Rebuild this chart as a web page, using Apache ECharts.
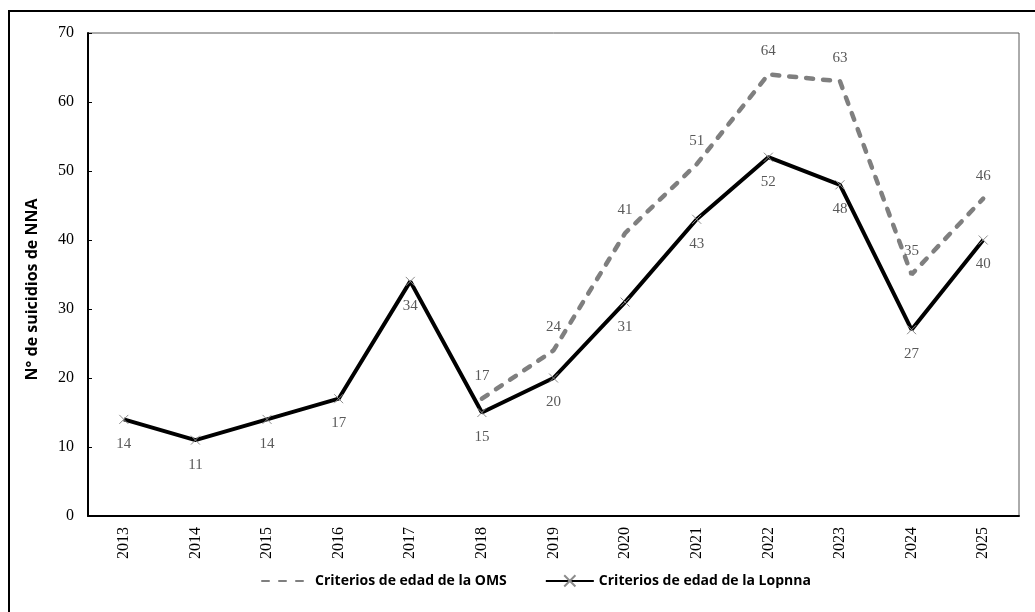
<!DOCTYPE html>
<html>
<head>
<meta charset="utf-8">
<script src="https://cdn.jsdelivr.net/npm/echarts@6/dist/echarts.min.js"></script>
<style>
html,body{margin:0;padding:0;background:#fff;}
#c{width:1035px;height:612px;}
</style>
</head>
<body>
<div id="c"></div>
<script>
var years = ['2013','2014','2015','2016','2017','2018','2019','2020','2021','2022','2023','2024','2025'];
var omsValues = [null, null, null, null, null, 17, 24, 41, 51, 64, 63, 35, 46];
var lopnnaValues = [14, 11, 14, 17, 34, 15, 20, 31, 43, 52, 48, 27, 40];
var yTicks = [0, 10, 20, 30, 40, 50, 60, 70];
var seriesNames = ['Criterios de edad de la OMS', 'Criterios de edad de la Lopnna'];
var yAxisTitle = 'N° de suicidios de NNA';

var chart = echarts.init(document.getElementById('c'), null, {renderer: 'canvas'});
var serif = '"Liberation Serif", "Times New Roman", serif';
var sans = '"Open Sans", "Liberation Sans", sans-serif';
var crossPath = 'path://M0,0L10,10M10,0L0,10';

chart.setOption({
  animation: false,
  backgroundColor: '#ffffff',
  graphic: [{
    type: 'rect',
    shape: {x: 9, y: 11, width: 1040, height: 620},
    style: {fill: 'none', stroke: '#000', lineWidth: 2},
    z: -10
  }],
  grid: {
    left: 88, top: 33, right: 16, bottom: 96,
    show: true, borderColor: '#595959', borderWidth: 1, backgroundColor: 'transparent'
  },
  legend: {
    bottom: 18,
    left: 256,
    itemWidth: 48,
    itemHeight: 14,
    itemGap: 38,
    textStyle: {fontFamily: sans, fontWeight: 'bold', fontSize: 14, color: '#000'},
    data: seriesNames
  },
  xAxis: {
    type: 'category',
    data: years,
    boundaryGap: true,
    axisLine: {lineStyle: {color: '#000', width: 2}},
    axisTick: {inside: true, length: 5, lineStyle: {color: '#000', width: 1}},
    axisLabel: {rotate: 90, margin: 11, fontFamily: serif, fontSize: 16, color: '#000'}
  },
  yAxis: {
    type: 'value',
    min: yTicks[0],
    max: yTicks[yTicks.length - 1],
    interval: 10,
    name: yAxisTitle,
    nameLocation: 'middle',
    nameGap: 48,
    nameTextStyle: {fontFamily: sans, fontWeight: 'bold', fontSize: 16, color: '#000', padding: [0, 30, 0, 0]},
    splitLine: {show: false},
    axisLine: {show: true, lineStyle: {color: '#000', width: 2}},
    axisTick: {show: true, inside: true, length: 4, lineStyle: {color: '#000'}},
    axisLabel: {margin: 14, fontFamily: serif, fontSize: 16, color: '#000'}
  },
  series: [{
    name: seriesNames[0],
    type: 'line',
    data: omsValues,
    connectNulls: false,
    symbol: 'circle',
    symbolSize: 2,
    itemStyle: {color: 'rgba(127,127,127,0)', borderColor: 'rgba(127,127,127,0)'},
    lineStyle: {color: '#7f7f7f', width: 4.5, type: [7, 10], cap: 'round'},
    label: {show: true, position: 'top', distance: 14, fontFamily: serif, fontSize: 15, color: '#595959'},
    z: 2
  }, {
    name: seriesNames[1],
    type: 'line',
    data: lopnnaValues,
    symbol: crossPath,
    symbolSize: 9,
    itemStyle: {color: 'none', borderColor: '#8c8c8c', borderWidth: 1},
    lineStyle: {color: '#000', width: 4},
    label: {show: true, position: 'bottom', distance: 10, fontFamily: serif, fontSize: 15, color: '#595959'},
    z: 3
  }]
});
</script>
</body>
</html>
